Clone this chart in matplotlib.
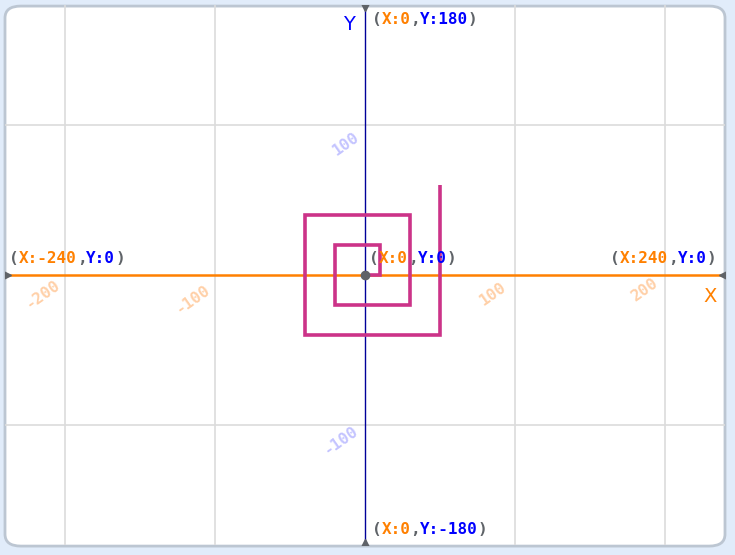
import matplotlib
matplotlib.use("Agg")
import matplotlib.pyplot as plt
from matplotlib.patches import FancyBboxPatch

# spiral path drawn by the pen (stage coordinates)
path_x = [0, 10, 10, -20, -20, 30, 30, -40, -40, 50, 50]
path_y = [0, 0, 20, 20, -20, -20, 40, 40, -40, -40, 60]

# faint rotated axis numbers
xnum_vals = [-200, -100, 100, 200]
xnum_pos = [(-215, -13), (-115, -16), (85, -13), (186, -10)]
ynum_vals = [100, -100]
ynum_pos = [(-13, 87), (-16, -110)]

grid_x = [-200, -100, 100, 200]
grid_y = [-100, 100]

GREY = "#5f6368"
ORANGE = "#ff8000"
BLUE = "#0000ff"

W, H = 735, 555
fig = plt.figure(figsize=(W / 100, H / 100), dpi=100)
fig.patch.set_facecolor("#e1ecfa")

ax = fig.add_axes([5 / W, 10 / H, 720 / W, 540 / H])
ax.patch.set_visible(False)
ax.set_xlim(-240, 240)
ax.set_ylim(-180, 180)
for s in ax.spines.values():
    s.set_visible(False)
ax.set_xticks([])
ax.set_yticks([])

# rounded white stage
stage = FancyBboxPatch((0, -0.002), 1, 1.0, boxstyle="round,pad=0,rounding_size=0.022",
                       transform=ax.transAxes, facecolor="white",
                       edgecolor="#bcc6d2", linewidth=2.0, zorder=0, clip_on=False)
ax.add_patch(stage)

for gx in grid_x:
    ax.axvline(gx, color="#dcdcdc", lw=1.2, zorder=1)
for gy in grid_y:
    ax.axhline(gy, color="#dcdcdc", lw=1.2, zorder=1)

ax.plot([-240, 240], [0, 0], color=ORANGE, lw=1.8, zorder=2)
ax.plot([0, 0], [-180, 180], color="#000099", lw=1.0, zorder=2)

# end markers (half hidden by the stage edge)
ax.plot([0], [180], marker="v", color=GREY, ms=9, zorder=3)
ax.plot([0], [-180], marker="^", color=GREY, ms=9, zorder=3)
ax.plot([-240], [0], marker=">", color=GREY, ms=9, zorder=3)
ax.plot([240], [0], marker="<", color=GREY, ms=9, zorder=3)

for v, (px, py) in zip(xnum_vals, xnum_pos):
    ax.text(px, py, str(v), color="#ffd0a8", fontsize=11.5, fontweight="bold",
            family="DejaVu Sans Mono", rotation=35, ha="center", va="center", zorder=1)
for v, (px, py) in zip(ynum_vals, ynum_pos):
    ax.text(px, py, str(v), color="#c4c4ff", fontsize=11.5, fontweight="bold",
            family="DejaVu Sans Mono", rotation=35, ha="center", va="center", zorder=1)

ax.plot(path_x, path_y, color="#cc3388", lw=2.6, solid_joinstyle="miter",
        solid_capstyle="butt", zorder=4)
ax.plot([0], [0], marker="o", color=GREY, ms=6, zorder=5)

FS = 11.5
CW = 0.602 * FS  # char width in points for DejaVu Sans Mono


def coord_label(x, y, xs, ys, align="left"):
    parts = [("(", GREY), ("X:" + xs, ORANGE), (",", GREY), ("Y:" + ys, BLUE), (")", GREY)]
    total = sum(len(t) for t, _ in parts)
    off = -total * CW if align == "right" else 0
    for t, c in parts:
        ax.annotate(t, (x, y), xytext=(off, 0), textcoords="offset points",
                    color=c, fontsize=FS, fontweight="bold", family="DejaVu Sans Mono",
                    ha="left", va="center", zorder=6, annotation_clip=False)
        off += len(t) * CW


coord_label(4.5, 170, "0", "180")
coord_label(-237, 11, "-240", "0")
coord_label(234, 11, "240", "0", align="right")
coord_label(3, 11, "0", "0")
coord_label(4.5, -170, "0", "-180")

ax.text(-11, 167, "Y", color=BLUE, fontsize=14, ha="center", va="center")
ax.text(230, -14, "X", color=ORANGE, fontsize=14, ha="center", va="center")

fig.savefig("out.png", dpi=100, facecolor=fig.get_facecolor())
